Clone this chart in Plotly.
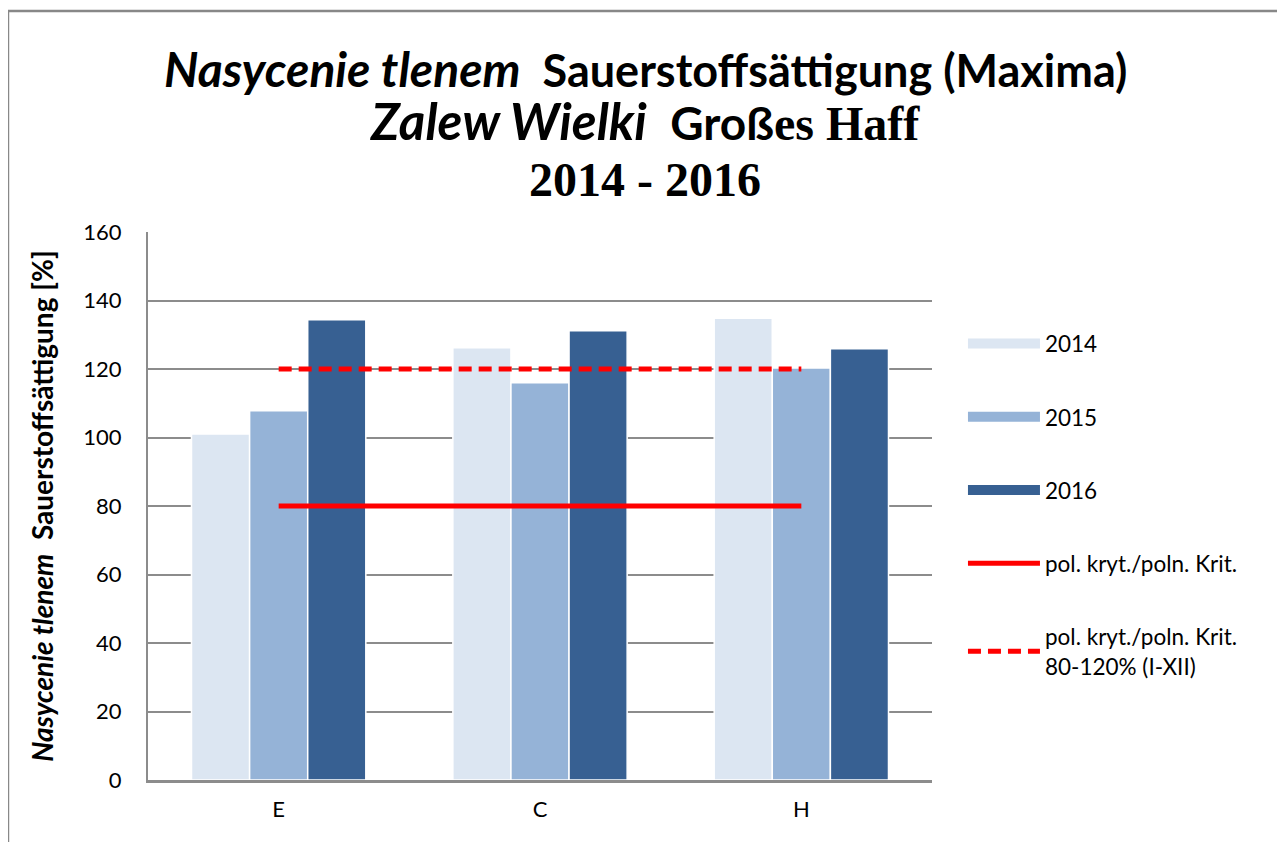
import plotly.graph_objects as go

# ---- data ----
stations = ["E", "C", "H"]
years = ["2014", "2015", "2016"]
sat_2014 = [101.0, 126.2, 134.8]
sat_2015 = [107.8, 116.0, 120.3]
sat_2016 = [134.4, 131.2, 125.9]
crit_solid = [80, 80, 80]
crit_dashed = [120, 120, 120]
crit_solid_name = "pol. kryt./poln. Krit."
crit_dashed_name = "pol. kryt./poln. Krit.<br>80-120% (I-XII)"
y_ticks = [0, 20, 40, 60, 80, 100, 120, 140, 160]

title_lines = [
    "<b><i style=\"font-size:48px\">Nasycenie tlenem</i>  Sauerstoffsättigung (Maxima)</b>",
    "<b><i style=\"font-size:51px\">Zalew Wielki</i>  "
    "<span style=\"font-size:46px\">Groß</span>"
    "<span style=\"font-family:Liberation Serif;font-size:48px\">es Haff</span></b>",
    "<b>2014 - 2016</b>",
]

bar_colors = ["#dce6f2", "#95b3d7", "#376092"]
red = "#ff0000"
grid = "#8c8c8c"
SANS = "Lato"
SERIF = "Liberation Serif"

fig = go.Figure()
for yr, vals, col in zip(years, [sat_2014, sat_2015, sat_2016], bar_colors):
    fig.add_trace(go.Bar(x=stations, y=vals, name=yr,
                         marker=dict(color=col, line=dict(color="white", width=1.5)),
                         showlegend=False, legendgroup=yr))
    # wide legend key like the original
    fig.add_trace(go.Scatter(x=[None], y=[None], mode="lines", name=yr, legendgroup=yr,
                             line=dict(color=col, width=12)))

fig.add_trace(go.Scatter(x=stations, y=crit_solid, mode="lines", name=crit_solid_name, legendgroup="s",
                         line=dict(color=red, width=5)))
fig.add_trace(go.Scatter(x=stations, y=crit_dashed, mode="lines", name=crit_dashed_name, legendgroup="d",
                         line=dict(color=red, width=5, dash="13px,7px")))

# title lines as annotations (page is offset by the 8px body margin)
title_y = [1.299, 1.2026, 1.0949]
title_fonts = [dict(family=SANS, size=45), dict(family=SANS, size=48), dict(family=SERIF, size=48)]
for txt, yy, fnt in zip(title_lines, title_y, title_fonts):
    fig.add_annotation(text=txt, xref="paper", yref="paper", x=0.634, y=yy,
                       xanchor="center", yanchor="middle", showarrow=False,
                       font=dict(color="black", **fnt))

fig.update_layout(
    width=1277, height=834,
    paper_bgcolor="white", plot_bgcolor="white",
    margin=dict(l=140, r=353, t=224, b=62),
    font=dict(family=SANS, size=21, color="black"),
    barmode="group", bargap=0.333, bargroupgap=0,
    legend=dict(x=1.0395, xanchor="left", y=0.835, yanchor="top", tracegroupgap=41,
                font=dict(size=22.5), itemwidth=72, bgcolor="rgba(0,0,0,0)"),
    xaxis=dict(showline=True, linecolor=grid, linewidth=2.5, ticks="", showgrid=False,
               tickfont=dict(size=22), ticklabelstandoff=8),
    yaxis=dict(range=[0, 160], tickvals=y_ticks, showgrid=True, gridcolor=grid, gridwidth=1.5,
               showline=True, linecolor=grid, linewidth=2, ticks="", zeroline=False,
               tickfont=dict(size=22), ticklabelstandoff=20,
               title=dict(text="<b><i>Nasycenie tlenem</i>  Sauerstoffsättigung [%]</b>",
                          font=dict(size=28), standoff=22)),
)

# outer chart border
fig.add_shape(type="rect", xref="paper", yref="paper",
              x0=-0.1786, x1=1.4477, y0=-0.15, y1=1.4033,
              line=dict(color="#888888", width=2.5), fillcolor="rgba(0,0,0,0)", layer="below")

fig.write_html("out.html")
